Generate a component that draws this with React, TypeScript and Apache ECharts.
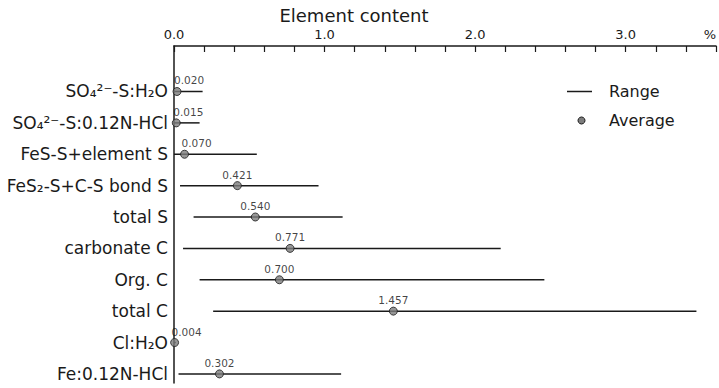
import React, { useEffect, useRef } from "react";
import * as echarts from "echarts";

const categories = [
  "SO₄²⁻-S:H₂O",
  "SO₄²⁻-S:0.12N-HCl",
  "FeS-S+element S",
  "FeS₂-S+C-S bond S",
  "total S",
  "carbonate C",
  "Org. C",
  "total C",
  "Cl:H₂O",
  "Fe:0.12N-HCl",
];
const averages = [0.02, 0.015, 0.07, 0.421, 0.54, 0.771, 0.7, 1.457, 0.004, 0.302];
const rangeMin = [0.0, 0.0, 0.0, 0.04, 0.13, 0.06, 0.17, 0.26, 0.0, 0.03];
const rangeMax = [0.19, 0.17, 0.55, 0.96, 1.12, 2.17, 2.46, 3.47, 0.012, 1.11];
const xTickLabels: Record<string, string> = { "0": "0.0", "1": "1.0", "2": "2.0", "3": "3.0", "3.6": "%" };

const FONT = "DejaVu Sans";
const INK = "#1a1a1a";

export default function App() {
  const ref = useRef<HTMLDivElement>(null);
  useEffect(() => {
    if (!ref.current) return;
    const chart = echarts.init(ref.current, null, { renderer: "svg" });
    const rangeData = categories.map((_, i) => [i, rangeMin[i], rangeMax[i]]);
    const avgData = averages.map((v, i) => ({
      value: [v, i],
      label:
        v < 0.1
          ? { align: "left", offset: [-3, 0] }
          : { align: "center" },
    }));
    chart.setOption({
      animation: false,
      backgroundColor: "#ffffff",
      title: {
        text: "Element content",
        left: 349,
        top: 1,
        textAlign: "center",
        textStyle: { fontFamily: FONT, fontSize: 18, fontWeight: "normal", color: INK },
      },
      grid: { left: 174, right: 0, top: 46, bottom: 5, containLabel: false },
      xAxis: {
        type: "value",
        position: "top",
        min: 0,
        max: 3.6,
        interval: 0.2,
        axisLine: { show: true, onZero: false, lineStyle: { color: INK, width: 1.5 } },
        axisTick: { show: true, inside: true, length: 6, lineStyle: { color: INK, width: 1.2 } },
        splitLine: { show: false },
        axisLabel: {
          show: true,
          margin: 5,
          fontFamily: FONT,
          fontSize: 13,
          color: INK,
          alignMaxLabel: "right",
          formatter: (v: number) => {
            const key = String(Math.round(v * 10) / 10);
            return xTickLabels[key] ?? "";
          },
        },
      },
      yAxis: {
        type: "value",
        inverse: true,
        min: -1.45,
        max: 9.29,
        axisLine: { show: true, onZero: false, lineStyle: { color: INK, width: 1.5 } },
        axisTick: { show: false },
        splitLine: { show: false },
        axisLabel: {
          show: true,
          customValues: categories.map((_, i) => i),
          margin: 6,
          fontFamily: FONT,
          fontSize: 17,
          color: INK,
          formatter: (v: number) => categories[Math.round(v)] ?? "",
        },
      },
      series: [
        {
          name: "Range",
          type: "custom",
          data: rangeData,
          encode: { x: [1, 2], y: 0 },
          renderItem: (params: any, api: any) => {
            const y = api.value(0);
            const p1 = api.coord([api.value(1), y]);
            const p2 = api.coord([api.value(2), y]);
            return {
              type: "line",
              shape: { x1: p1[0], y1: p1[1], x2: p2[0], y2: p2[1] },
              style: { stroke: INK, lineWidth: 1.5 },
            };
          },
          z: 2,
        },
        {
          name: "Average",
          type: "scatter",
          data: avgData,
          symbol: "circle",
          symbolSize: 8,
          itemStyle: { color: "#7d7d7d", borderColor: INK, borderWidth: 1 },
          label: {
            show: true,
            position: "top",
            distance: 1,
            fontFamily: FONT,
            fontSize: 10.5,
            color: "#111",
            formatter: (p: any) => Number(p.value[0]).toFixed(3),
          },
          z: 3,
        },
      ],
      graphic: [
        {
          type: "line",
          shape: { x1: 567, y1: 91.5, x2: 592, y2: 91.5 },
          style: { stroke: INK, lineWidth: 1.5 },
        },
        {
          type: "text",
          x: 609,
          y: 91.5,
          style: { text: "Range", fontFamily: FONT, fontSize: 16, fill: INK, verticalAlign: "middle" },
        },
        {
          type: "circle",
          shape: { cx: 581.5, cy: 120.5, r: 3.5 },
          style: { fill: "#7d7d7d", stroke: INK, lineWidth: 1 },
        },
        {
          type: "text",
          x: 609,
          y: 120.5,
          style: { text: "Average", fontFamily: FONT, fontSize: 16, fill: INK, verticalAlign: "middle" },
        },
      ],
    });
    return () => chart.dispose();
  }, []);
  return (
    <div
      ref={ref}
      style={{ position: "fixed", left: 0, top: 0, width: 719, height: 388, background: "#fff" }}
    />
  );
}
